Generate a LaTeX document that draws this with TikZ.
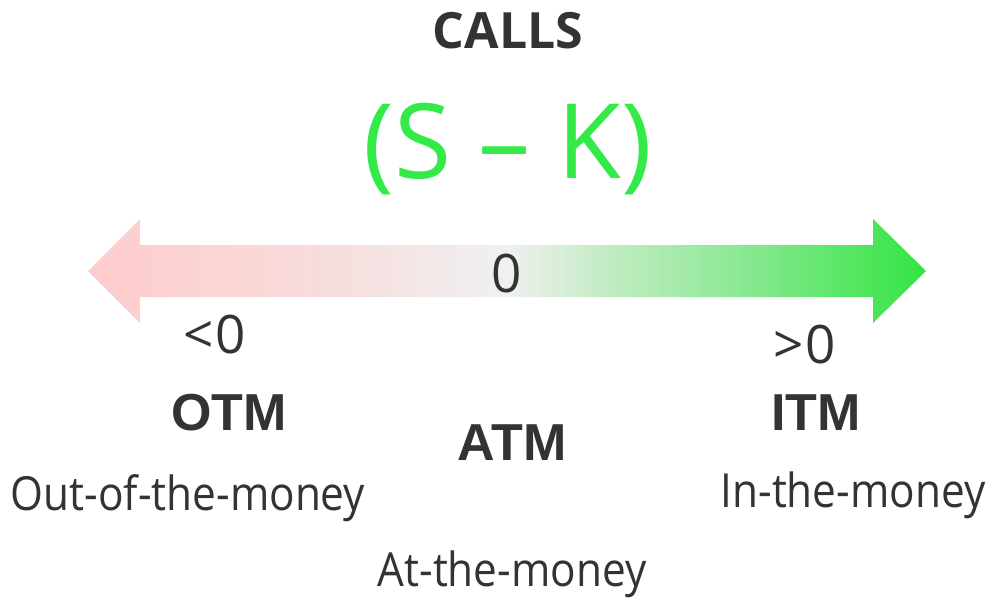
\documentclass[tikz,border=0pt]{standalone}
\usepackage{fontspec}
\setmainfont{Open Sans}
\newfontfamily\labelfont{Open Sans}
\newfontfamily\descfont{Open Sans}[FakeStretch=0.9]
\newfontfamily\tagfont{Liberation Sans}
\definecolor{ink}{RGB}{51,51,51}
\definecolor{pinkA}{RGB}{255,204,204}
\definecolor{pinkB}{RGB}{248,218,218}
\definecolor{greyM}{RGB}{240,240,240}
\definecolor{greenA}{RGB}{198,236,198}
\definecolor{greenB}{RGB}{130,232,140}
\definecolor{greenZ}{RGB}{50,228,65}
\definecolor{formula}{RGB}{52,234,72}
% horizontal ramp pink -> grey -> green; the inner 25bp..75bp band spans the path
\pgfdeclarehorizontalshading{moneyramp}{100bp}{%
  color(0bp)=(pinkA); color(25bp)=(pinkA); color(37.6bp)=(pinkB);
  color(50bp)=(greyM); color(55.5bp)=(greenA); color(65.1bp)=(greenB);
  color(75bp)=(greenZ); color(100bp)=(greenZ)}
\begin{document}
\begin{tikzpicture}[x=1pt,y=-1pt,
  every node/.style={inner sep=0pt,outer sep=0pt,text=ink,anchor=base},
  heading/.style={font=\labelfont\bfseries\fontsize{50}{50}\selectfont},
  formulatext/.style={font=\labelfont\fontsize{104}{104}\selectfont,text=formula},
  signtext/.style={font=\labelfont\fontsize{53}{53}\selectfont},
  tagtext/.style={font=\tagfont\bfseries\fontsize{52}{52}\selectfont},
  desctext/.style={font=\descfont\fontsize{47}{47}\selectfont}]
\useasboundingbox (0,0) rectangle (989,598);
% double-headed arrow with colour ramp
\shade[shading=moneyramp]
  (88,271) -- (140,219) -- (140,245) -- (873,245) -- (873,219) -- (926,271)
  -- (873,323) -- (873,297) -- (140,297) -- (140,323) -- cycle;
\node[heading] (calls) at (508,48) {CALLS};
\node[formulatext] (sk) at (508,178) {(S – K)};
\node[signtext] (zero) at (507,292) {0};
\node[signtext] (neg) at (215,353) {<\kern2pt0};
\node[signtext] (pos) at (805,363) {>\kern2pt0};
\node[tagtext] (otm) at (229,430) {OTM};
\node[tagtext] (atm) at (512,460) {ATM};
\node[tagtext] (itm) at (816,430) {ITM};
\node[desctext] (otmd) at (188,510) {Out-of-the-money};
\node[desctext] (itmd) at (853,507) {In-the-money};
\node[desctext] (atmd) at (512,586) {At-the-money};
\end{tikzpicture}
\end{document}
